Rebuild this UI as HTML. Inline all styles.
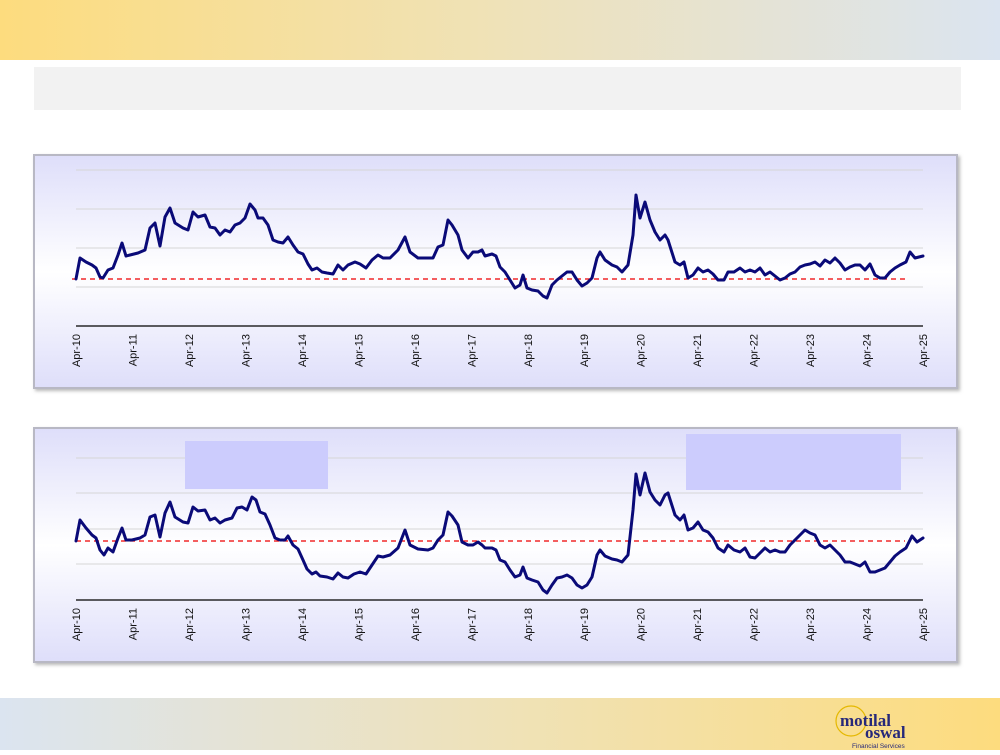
<!DOCTYPE html>
<html><head><meta charset="utf-8"><style>
body{margin:0;width:1000px;height:750px;overflow:hidden;background:#fff;font-family:"Liberation Sans",sans-serif;}
</style></head><body>
<svg width="1000" height="750" viewBox="0 0 1000 750" xmlns="http://www.w3.org/2000/svg" font-family="Liberation Sans, sans-serif">
<defs>
<linearGradient id="top" x1="0" x2="1" y1="0" y2="0"><stop offset="0" stop-color="#fddc7e"/><stop offset="0.5" stop-color="#efe2b8"/><stop offset="1" stop-color="#dbe4f0"/></linearGradient>
<linearGradient id="bot" x1="0" x2="1" y1="0" y2="0"><stop offset="0" stop-color="#dbe4f0"/><stop offset="0.5" stop-color="#efe2b8"/><stop offset="1" stop-color="#fddc7e"/></linearGradient>
<linearGradient id="pan" x1="0" x2="0" y1="0" y2="1"><stop offset="0" stop-color="#dedefa"/><stop offset="0.5" stop-color="#ffffff"/><stop offset="1" stop-color="#dedefa"/></linearGradient>
<filter id="sh" x="-5%" y="-5%" width="110%" height="110%"><feDropShadow dx="2" dy="2" stdDeviation="1.5" flood-color="#888" flood-opacity="0.6"/></filter>
</defs>
<rect x="0" y="0" width="1000" height="60" fill="url(#top)"/>
<rect x="34" y="67" width="927" height="43" fill="#f2f2f2"/>
<rect x="0" y="698" width="1000" height="52" fill="url(#bot)"/>
<!-- logo -->
<circle cx="851" cy="721" r="15" fill="none" stroke="#e5b800" stroke-width="1.2"/>
<text x="840" y="726" font-family="Liberation Serif, serif" font-weight="bold" font-size="17" fill="#26287a">motilal</text>
<text x="865" y="738" font-family="Liberation Serif, serif" font-weight="bold" font-size="17" fill="#26287a">oswal</text>
<text x="852" y="748" font-size="6.5" fill="#26287a">Financial Services</text>

<!-- Panel 1 -->
<rect x="34" y="155" width="923" height="233" fill="url(#pan)" stroke="#b8b8c4" stroke-width="2" filter="url(#sh)"/>
<g stroke="#d6d6d6" stroke-width="1">
<line x1="76" x2="923" y1="170" y2="170"/><line x1="76" x2="923" y1="209" y2="209"/><line x1="76" x2="923" y1="248" y2="248"/><line x1="76" x2="923" y1="287" y2="287"/></g>
<line x1="76" x2="923" y1="326" y2="326" stroke="#000" stroke-width="1.2"/>
<line x1="72" x2="905" y1="279" y2="279" stroke="#e00" stroke-width="1.3" stroke-dasharray="5,4"/>
<polyline fill="none" stroke="#0a0a78" stroke-width="3" stroke-linejoin="round" stroke-linecap="round" points="76,279 80,258 86,262 92,265 96,268 100,277 103,278 108,270 113,268 118,255 122,243 126,256 130,255 138,253 145,250 150,228 155,223 160,246 165,217 170,208 175,223 183,228 188,230 193,212 198,217 205,215 210,227 215,228 220,235 225,230 230,232 235,225 240,223 245,218 250,204 255,210 258,218 263,218 268,225 273,240 278,242 283,243 288,237 293,245 298,252 303,254 308,264 312,270 317,268 322,272 327,273 333,274 338,265 343,270 348,265 355,262 360,264 366,268 372,260 378,255 383,258 390,258 398,250 405,237 410,252 418,258 428,258 433,258 438,247 443,245 448,220 452,225 458,235 462,250 468,258 473,252 478,252 482,250 485,256 492,254 496,256 500,267 505,272 510,280 515,288 520,285 523,275 527,288 532,290 538,291 543,296 547,298 552,285 557,280 562,276 567,272 572,272 577,280 582,286 587,283 592,278 597,258 600,252 605,260 612,265 617,267 622,272 628,265 633,235 636,195 640,218 645,202 650,220 655,232 660,240 665,235 668,240 675,262 680,265 684,262 688,278 693,275 698,268 703,272 708,270 713,274 718,280 724,280 728,272 734,272 740,268 745,272 750,270 755,272 760,268 765,275 770,272 775,276 780,280 785,278 790,274 795,272 800,267 805,265 810,264 815,262 820,266 825,260 830,263 835,258 840,263 845,270 850,267 855,265 860,265 865,270 870,264 875,275 880,278 885,278 890,272 895,268 900,265 906,262 910,252 915,258 923,256"/>
<g font-size="11" fill="#111" text-anchor="end">
<text transform="translate(80,334) rotate(-90)">Apr-10</text>
<text transform="translate(136.5,334) rotate(-90)">Apr-11</text>
<text transform="translate(193,334) rotate(-90)">Apr-12</text>
<text transform="translate(249.4,334) rotate(-90)">Apr-13</text>
<text transform="translate(305.9,334) rotate(-90)">Apr-14</text>
<text transform="translate(362.4,334) rotate(-90)">Apr-15</text>
<text transform="translate(418.8,334) rotate(-90)">Apr-16</text>
<text transform="translate(475.3,334) rotate(-90)">Apr-17</text>
<text transform="translate(531.8,334) rotate(-90)">Apr-18</text>
<text transform="translate(588.2,334) rotate(-90)">Apr-19</text>
<text transform="translate(644.7,334) rotate(-90)">Apr-20</text>
<text transform="translate(701.2,334) rotate(-90)">Apr-21</text>
<text transform="translate(757.6,334) rotate(-90)">Apr-22</text>
<text transform="translate(814.1,334) rotate(-90)">Apr-23</text>
<text transform="translate(870.6,334) rotate(-90)">Apr-24</text>
<text transform="translate(927,334) rotate(-90)">Apr-25</text>
</g>

<!-- Panel 2 -->
<rect x="34" y="428" width="923" height="234" fill="url(#pan)" stroke="#b8b8c4" stroke-width="2" filter="url(#sh)"/>
<g stroke="#d6d6d6" stroke-width="1">
<line x1="76" x2="923" y1="458" y2="458"/><line x1="76" x2="923" y1="493" y2="493"/><line x1="76" x2="923" y1="529" y2="529"/><line x1="76" x2="923" y1="564" y2="564"/></g>
<rect x="185" y="441" width="143" height="48" fill="#ccccfd"/>
<rect x="686" y="434" width="215" height="56" fill="#ccccfd"/>
<line x1="76" x2="923" y1="600" y2="600" stroke="#000" stroke-width="1.2"/>
<line x1="76" x2="905" y1="541" y2="541" stroke="#e00" stroke-width="1.3" stroke-dasharray="5,4"/>
<polyline fill="none" stroke="#0a0a78" stroke-width="3" stroke-linejoin="round" stroke-linecap="round" points="76,541 80,520 86,528 92,535 96,538 100,550 104,555 108,548 113,552 118,538 122,528 126,540 132,540 140,538 145,535 150,517 155,515 160,537 165,513 170,502 175,517 183,522 188,523 193,507 198,511 205,510 210,520 215,518 220,523 225,520 232,518 237,508 242,507 247,510 252,497 256,500 260,512 265,514 270,525 275,538 280,540 285,540 288,536 293,545 298,549 303,560 307,569 312,574 316,572 320,576 327,577 333,579 338,573 343,577 348,578 354,574 360,572 366,574 372,565 378,556 383,557 390,555 398,548 405,530 410,545 418,549 428,550 433,548 438,540 443,535 448,512 452,516 458,525 462,542 468,545 473,545 478,542 482,545 485,548 492,548 496,550 500,560 505,562 510,570 515,577 520,575 523,567 527,578 532,580 538,582 543,590 547,593 552,585 557,578 562,577 567,575 572,578 577,585 582,588 587,585 592,577 597,555 600,550 605,556 612,559 617,560 622,562 628,555 633,510 636,474 640,495 645,473 650,492 655,500 660,505 665,495 668,493 675,515 680,520 684,515 688,530 693,528 698,522 703,530 708,532 713,538 718,548 724,552 728,545 734,550 740,552 745,548 750,557 755,558 760,553 765,548 770,552 775,550 780,552 785,552 790,545 795,540 800,535 805,530 810,533 815,535 820,545 825,548 830,545 835,550 840,555 845,562 850,562 855,564 860,566 865,562 870,572 875,572 880,570 885,568 890,562 895,556 900,552 906,548 912,536 917,542 923,538"/>
<g font-size="11" fill="#111" text-anchor="end">
<text transform="translate(80,608) rotate(-90)">Apr-10</text>
<text transform="translate(136.5,608) rotate(-90)">Apr-11</text>
<text transform="translate(193,608) rotate(-90)">Apr-12</text>
<text transform="translate(249.4,608) rotate(-90)">Apr-13</text>
<text transform="translate(305.9,608) rotate(-90)">Apr-14</text>
<text transform="translate(362.4,608) rotate(-90)">Apr-15</text>
<text transform="translate(418.8,608) rotate(-90)">Apr-16</text>
<text transform="translate(475.3,608) rotate(-90)">Apr-17</text>
<text transform="translate(531.8,608) rotate(-90)">Apr-18</text>
<text transform="translate(588.2,608) rotate(-90)">Apr-19</text>
<text transform="translate(644.7,608) rotate(-90)">Apr-20</text>
<text transform="translate(701.2,608) rotate(-90)">Apr-21</text>
<text transform="translate(757.6,608) rotate(-90)">Apr-22</text>
<text transform="translate(814.1,608) rotate(-90)">Apr-23</text>
<text transform="translate(870.6,608) rotate(-90)">Apr-24</text>
<text transform="translate(927,608) rotate(-90)">Apr-25</text>
</g>
</svg>
</body></html>
